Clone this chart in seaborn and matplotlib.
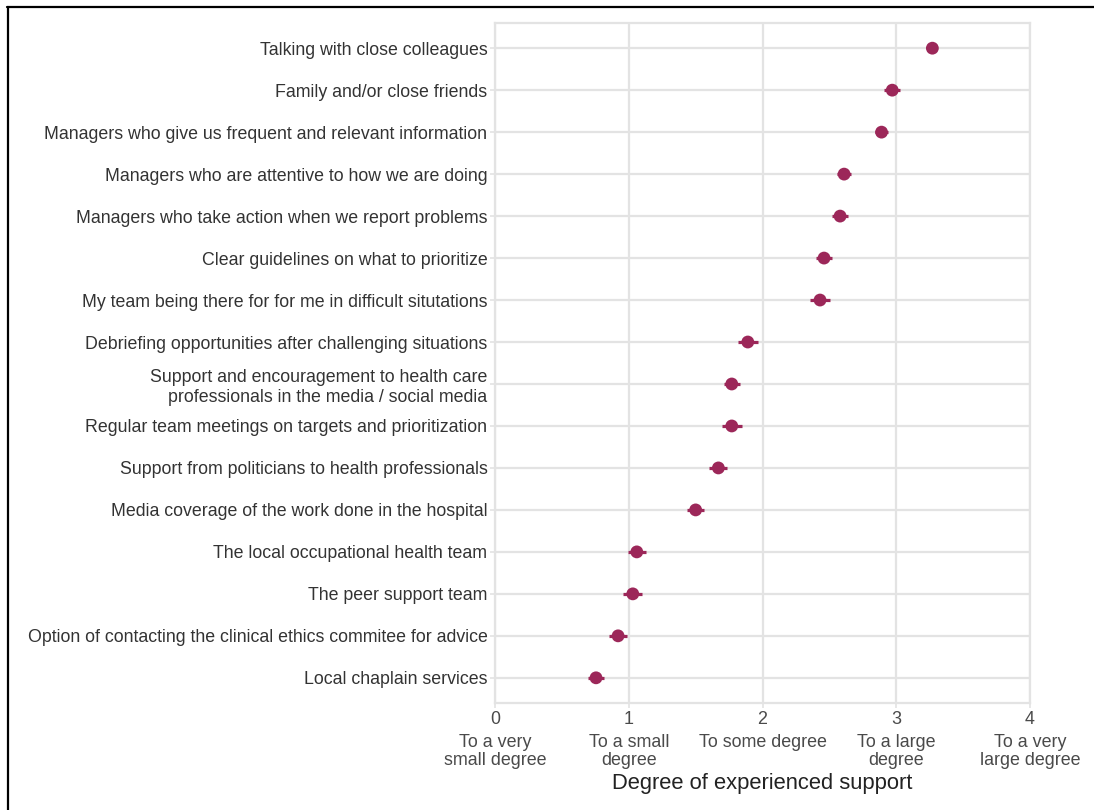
import matplotlib
matplotlib.use("Agg")
import matplotlib.pyplot as plt
from matplotlib.lines import Line2D
import seaborn as sns
import pandas as pd

# Sources of support, top to bottom
items = [
    "Talking with close colleagues",
    "Family and/or close friends",
    "Managers who give us frequent and relevant information",
    "Managers who are attentive to how we are doing",
    "Managers who take action when we report problems",
    "Clear guidelines on what to prioritize",
    "My team being there for for me in difficult situtations",
    "Debriefing opportunities after challenging situations",
    "Support and encouragement to health care\nprofessionals in the media / social media",
    "Regular team meetings on targets and prioritization",
    "Support from politicians to health professionals",
    "Media coverage of the work done in the hospital",
    "The local occupational health team",
    "The peer support team",
    "Option of contacting the clinical ethics commitee for advice",
    "Local chaplain services",
]
# Mean score and half-width of the confidence interval
means = [3.27, 2.97, 2.89, 2.61, 2.58, 2.46, 2.43, 1.89,
         1.77, 1.77, 1.67, 1.50, 1.06, 1.03, 0.92, 0.755]
ci_half = [0.03, 0.06, 0.05, 0.055, 0.06, 0.06, 0.075, 0.075,
           0.06, 0.075, 0.067, 0.063, 0.067, 0.07, 0.067, 0.06]

scale_ticks = [0, 1, 2, 3, 4]
scale_numbers = ["0", "1", "2", "3", "4"]
scale_labels = [
    "To a very\nsmall degree",
    "To a small\ndegree",
    "To some degree",
    "To a large\ndegree",
    "To a very\nlarge degree",
]

df = pd.DataFrame({"item": items, "mean": means, "ci": ci_half})

sns.set_theme(style="white")
plt.rcParams["font.family"] = ["Liberation Sans", "DejaVu Sans"]

color = "#9C2759"
grid_color = "#e3e3e3"
text_color = "#4a4a4a"

fig = plt.figure(figsize=(10.94, 8.10), dpi=100)
ax = fig.add_axes([0.4525, 0.1321, 0.4890, 0.8395])

ax.set_axisbelow(True)
ax.grid(True, which="major", color=grid_color, linewidth=1.6)

ax.errorbar(df["mean"], range(len(df)), xerr=df["ci"], fmt="none",
            ecolor=color, elinewidth=2.3, capsize=0, zorder=3)
sns.scatterplot(data=df, x="mean", y="item", ax=ax, color=color,
                s=85, edgecolor="none", zorder=4, legend=False)

ax.set_xlim(0, 4)
ax.set_ylim(len(items) - 0.4, -0.6)

# Scale numbers as major ticks, verbal anchors as minor ticks below them
ax.xaxis.remove_overlapping_locs = False
ax.set_xticks(scale_ticks)
ax.set_xticklabels(scale_numbers)
ax.set_xticks(scale_ticks, minor=True)
ax.set_xticklabels(scale_labels, minor=True)
for lab in ax.get_xticklabels(minor=True):
    lab.set_linespacing(1.05)

ax.set_ylabel("")
ax.set_xlabel("Degree of experienced support", fontsize=15.8,
              color="#222222", labelpad=3)

for side, spine in ax.spines.items():
    spine.set_visible(True)
    spine.set_color(grid_color)
    spine.set_linewidth(1.6)

ax.tick_params(axis="y", which="both", left=True, length=3.5, width=1.2,
               color=grid_color, labelsize=12.8, labelcolor="#333333", pad=2)
ax.tick_params(axis="x", which="major", bottom=True, length=3.5, width=1.2,
               color=grid_color, labelsize=12.9, labelcolor=text_color, pad=2)
ax.tick_params(axis="x", which="minor", bottom=False, length=0,
               labelsize=12.9, labelcolor=text_color, pad=22.5)

# Partial black frame around the figure
fig.add_artist(Line2D([7.8 / 1094, 7.8 / 1094], [0, 1 - 6.8 / 810],
                      transform=fig.transFigure, color="black", linewidth=1.6))
fig.add_artist(Line2D([7 / 1094, 1], [1 - 6.8 / 810, 1 - 6.8 / 810],
                      transform=fig.transFigure, color="black", linewidth=1.6))

fig.savefig("out.png", dpi=100)
